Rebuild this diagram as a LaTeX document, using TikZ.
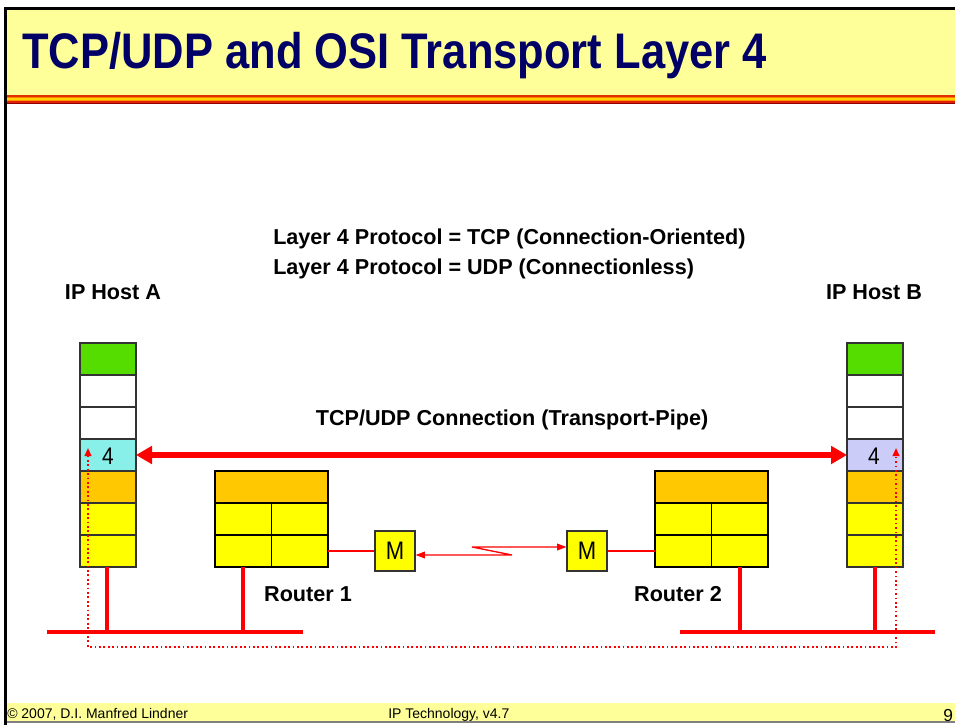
\documentclass[tikz,border=0pt]{standalone}
\usepackage{fontspec}
\setmainfont{Liberation Sans}
\newfontfamily\titlefont[FakeStretch=0.87]{Liberation Sans}
\usetikzlibrary{arrows.meta}
\definecolor{navy}{HTML}{000066}
\definecolor{paleyellow}{HTML}{FFFF99}
\definecolor{lgreen}{HTML}{55DD00}
\definecolor{lcyan}{HTML}{88F0E8}
\definecolor{llav}{HTML}{CCCCF8}
\definecolor{lorange}{HTML}{FFC800}
\definecolor{lyellow}{HTML}{FFFF00}
\definecolor{netred}{HTML}{FF0000}
\definecolor{frame}{HTML}{333333}
\definecolor{stripeA}{HTML}{E03000}
\definecolor{stripeB}{HTML}{FF8000}
\definecolor{stripeC}{HTML}{FFD200}
\definecolor{stripeD}{HTML}{FF9000}
\definecolor{stripeE}{HTML}{E02000}
\definecolor{stripeF}{HTML}{900000}
\tikzset{
  layer/.style={draw=frame, line width=0.8pt, minimum width=42pt, minimum height=24pt, inner sep=0pt, outer sep=0pt},
  rtop/.style={draw=black, line width=0.8pt, fill=lorange, minimum width=84.75pt, minimum height=24pt, inner sep=0pt, outer sep=0pt},
  rcell/.style={draw=black, line width=0.8pt, fill=lyellow, minimum width=42.375pt, minimum height=24pt, inner sep=0pt, outer sep=0pt},
  modem/.style={draw=frame, line width=0.8pt, fill=lyellow, minimum size=30pt, inner sep=0pt, font=\titlefont\fontsize{19}{21}\selectfont},
  lbl/.style={font=\bfseries\fontsize{16.2}{19}\selectfont, inner sep=0pt},
  laynum/.style={font=\titlefont\fontsize{18}{20}\selectfont, inner sep=0pt},
  bus/.style={netred, line width=3pt},
  drop/.style={netred, line width=3pt},
  thinlink/.style={netred, line width=1pt},
  pipe/.style={netred, line width=4pt, {Triangle[length=12pt,width=13pt]}-{Triangle[length=12pt,width=13pt]}},
  trace/.style={netred, line width=1.3pt, dotted, {Triangle[length=6pt,width=5pt]}-{Triangle[length=6pt,width=5pt]}},
  foot/.style={anchor=base west, inner sep=0pt, font=\fontsize{10.5}{12}\selectfont},
}
\begin{document}
\begin{tikzpicture}[x=0.75pt,y=-0.75pt]
\useasboundingbox (0,0) rectangle (955,725);
% title band, stripe and frame
\fill[paleyellow] (5,8) rectangle (955,95);
\fill[stripeA] (5,95) rectangle (955,96.5);
\fill[stripeB] (5,96.5) rectangle (955,98);
\fill[stripeC] (5,98) rectangle (955,99.5);
\fill[stripeD] (5,99.5) rectangle (955,101);
\fill[stripeE] (5,101) rectangle (955,102.5);
\fill[stripeF] (5,102.5) rectangle (955,104);
\fill[black] (4,7) rectangle (955,9.5);
\fill[black] (4,7) rectangle (6.5,725);
\node[anchor=base west, inner sep=0pt, text=navy, font=\titlefont\bfseries\fontsize{37.5}{40}\selectfont] (title) at (22,68) {TCP/UDP and OSI Transport Layer 4};
% footer band
\fill[paleyellow] (6.5,703) rectangle (955,722);
\draw[gray, line width=0.8pt] (6.5,722) -- (955,722);
\node[foot] (copy) at (7,718) {\textcopyright{} 2007, D.I. Manfred Lindner};
\node[foot] (course) at (388,718) {IP Technology, v4.7};
\node[foot, font=\fontsize{13}{15}\selectfont] (page) at (943,721) {9};

% protocol lines
\node[lbl, anchor=base west] (tcp) at (273,244) {Layer 4 Protocol = TCP (Connection-Oriented)};
\node[lbl, anchor=base west] (udp) at (273,274) {Layer 4 Protocol = UDP (Connectionless)};
\node[lbl, anchor=base] (hostAlbl) at (113,299) {IP Host A};
\node[lbl, anchor=base] (hostBlbl) at (874,299) {IP Host B};

% host A protocol stack
\node[layer, fill=lgreen]  (a1) at (108,359) {};
\node[layer, fill=white]   (a2) at (108,391) {};
\node[layer, fill=white]   (a3) at (108,423) {};
\node[layer, fill=lcyan]   (a4) at (108,455) {};
\node[layer, fill=lorange] (a5) at (108,487) {};
\node[layer, fill=lyellow] (a6) at (108,519) {};
\node[layer, fill=lyellow] (a7) at (108,551) {};
\node[laynum] (a4num) at (108,456) {4};

% host B protocol stack
\node[layer, fill=lgreen]  (b1) at (875,359) {};
\node[layer, fill=white]   (b2) at (875,391) {};
\node[layer, fill=white]   (b3) at (875,423) {};
\node[layer, fill=llav]    (b4) at (875,455) {};
\node[layer, fill=lorange] (b5) at (875,487) {};
\node[layer, fill=lyellow] (b6) at (875,519) {};
\node[layer, fill=lyellow] (b7) at (875,551) {};
\node[laynum] (b4num) at (874,456) {4};

% routers
\node[rtop] (r1t) at (271.5,487) {};
\node[rcell] (r1a) at (243.25,519) {};
\node[rcell] (r1b) at (299.75,519) {};
\node[rcell] (r1c) at (243.25,551) {};
\node[rcell] (r1d) at (299.75,551) {};
\node[lbl, anchor=base] (r1lbl) at (308,601) {Router 1};

\node[rtop] (r2t) at (711.5,487) {};
\node[rcell] (r2a) at (683.25,519) {};
\node[rcell] (r2b) at (739.75,519) {};
\node[rcell] (r2c) at (683.25,551) {};
\node[rcell] (r2d) at (739.75,551) {};
\node[lbl, anchor=base] (r2lbl) at (678,601) {Router 2};

% modems
\node[modem] (m1) at (395,551) {M};
\node[modem] (m2) at (587,551) {M};

% transport pipe
\node[lbl, anchor=base] (pipelbl) at (512,425) {TCP/UDP Connection (Transport-Pipe)};
\draw[pipe] (a4.east) -- (b4.west);

% LAN segments
\coordinate (lanAw) at (47,632);
\coordinate (lanAe) at (303,632);
\coordinate (lanBw) at (680,632);
\coordinate (lanBe) at (935,632);
\draw[bus] (lanAw) -- (lanAe);
\draw[bus] (lanBw) -- (lanBe);
\draw[drop] (a7.south) ++(-1,0) coordinate (aDrop) -- (aDrop |- lanAw);
\draw[drop] (r1c.south) -- (r1c.south |- lanAw);
\draw[drop] (r2d.south) -- (r2d.south |- lanBw);
\draw[drop] (b7.south) -- (b7.south |- lanBw);

% serial line between the routers
\draw[thinlink] (r1d.east) -- (m1.west);
\draw[thinlink] (m2.east) -- (r2c.west);
\coordinate (zA) at (512,555);
\coordinate (zB) at (472,547);
\draw[thinlink, {Triangle[length=7pt,width=5pt]}-{Triangle[length=7pt,width=5pt]}]
  (m1.east |- zA) -- (zA) -- (zB) -- (m2.west |- zB);

% end-to-end data path
\coordinate (tA) at (88,448);
\coordinate (tB) at (896,448);
\coordinate (tBot) at (0,647);
\draw[trace] (tA) -- (tA |- tBot) -- (tB |- tBot) -- (tB);
\end{tikzpicture}
\end{document}
